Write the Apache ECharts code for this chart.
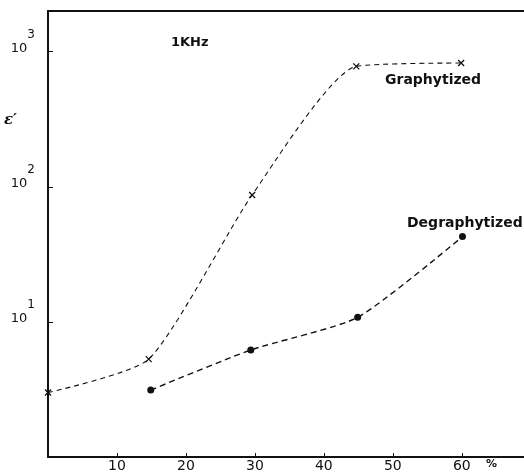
<!DOCTYPE html>
<html>
<head>
<meta charset="utf-8">
<script src="https://cdn.jsdelivr.net/npm/echarts@6/dist/echarts.min.js"></script>
<style>
  html, body { margin: 0; padding: 0; background: #fff; overflow: hidden; }
  #chart { width: 524px; height: 475px; }
</style>
</head>
<body>
<div id="chart"></div>
<script>
// Filler content (%) against permittivity ε' measured at 1 kHz
const graphytizedX = [0, 14.6, 29.6, 44.7, 59.9];
const graphytizedY = [3.0, 5.3, 87, 778, 824];

const degraphytizedX = [14.9, 29.4, 44.9, 60.1];
const degraphytizedY = [3.13, 6.2, 10.8, 42.8];

const xTicks = [10, 20, 30, 40, 50, 60];
const yTickExponents = { 10: '1', 100: '2', 1000: '3' };

const font = 'DejaVu Sans';
const ink = '#111';

const pairs = (xs, ys) => xs.map((x, i) => [x, ys[i]]);

const chart = echarts.init(document.getElementById('chart'), null, { renderer: 'canvas' });

chart.setOption({
  animation: false,
  backgroundColor: '#fff',
  grid: {
    left: 48, right: -4, top: 11, bottom: 18,
    containLabel: false,
    outerBoundsMode: 'none'
  },
  xAxis: [
    {
      type: 'value',
      min: 0,
      max: 69.6,
      interval: 10,
      axisLine: { show: true, lineStyle: { color: ink, width: 2 } },
      axisTick: { show: true, inside: true, length: 4, lineStyle: { color: ink, width: 1 } },
      axisLabel: {
        show: true,
        margin: 2,
        color: ink,
        fontFamily: font,
        fontSize: 14,
        formatter: v => (xTicks.includes(v) ? String(v) : '')
      },
      splitLine: { show: false }
    },
    {
      type: 'value',
      position: 'top',
      min: 0,
      max: 69.6,
      axisLine: { show: true, lineStyle: { color: ink, width: 2 } },
      axisTick: { show: false },
      axisLabel: { show: false },
      splitLine: { show: false }
    }
  ],
  yAxis: {
    type: 'log',
    logBase: 10,
    min: 1,
    max: 2000,
    axisLine: { show: true, lineStyle: { color: ink, width: 2 } },
    axisTick: { show: true, inside: true, length: 5, lineStyle: { color: ink, width: 1 } },
    minorTick: { show: false },
    splitLine: { show: false },
    axisLabel: {
      show: true,
      margin: 13,
      padding: [0, 0, 20, 0],
      color: ink,
      fontFamily: font,
      formatter: v => {
        const e = yTickExponents[Math.round(v)];
        return e ? '{b|10}{s|' + e + '}' : '';
      },
      rich: {
        b: { fontFamily: font, fontSize: 13, color: ink, verticalAlign: 'bottom' },
        s: { fontFamily: font, fontSize: 12, color: ink, verticalAlign: 'top', padding: [0, 0, 14, 0] }
      }
    }
  },
  graphic: [
    { type: 'text', left: 171, top: 36, style: { text: '1KHz', font: 'bold 13px "DejaVu Sans"', fill: ink } },
    { type: 'text', left: 385, top: 73, style: { text: 'Graphytized', font: 'bold 14px "DejaVu Sans"', fill: ink } },
    { type: 'text', left: 407, top: 216, style: { text: 'Degraphytized', font: 'bold 14px "DejaVu Sans"', fill: ink } },
    { type: 'text', left: 4, top: 113, style: { text: 'ε′', font: 'italic bold 15px "DejaVu Serif"', fill: ink } },
    { type: 'text', left: 486, top: 459, style: { text: '%', font: 'bold 11px "DejaVu Sans"', fill: ink } }
  ],
  series: [
    {
      name: 'Graphytized',
      type: 'line',
      data: pairs(graphytizedX, graphytizedY),
      smooth: 0.2,
      symbol: 'path://M0,0L10,10M10,0L0,10',
      symbolSize: 6,
      itemStyle: { color: 'transparent', borderColor: ink, borderWidth: 1.3 },
      lineStyle: { color: ink, width: 1.1, type: [5, 4] }
    },
    {
      name: 'Degraphytized',
      type: 'line',
      data: pairs(degraphytizedX, degraphytizedY),
      smooth: 0.2,
      symbol: 'circle',
      symbolSize: 7,
      itemStyle: { color: ink, borderColor: ink, borderWidth: 0 },
      lineStyle: { color: ink, width: 1.4, type: [6, 4] }
    }
  ]
});
</script>
</body>
</html>
